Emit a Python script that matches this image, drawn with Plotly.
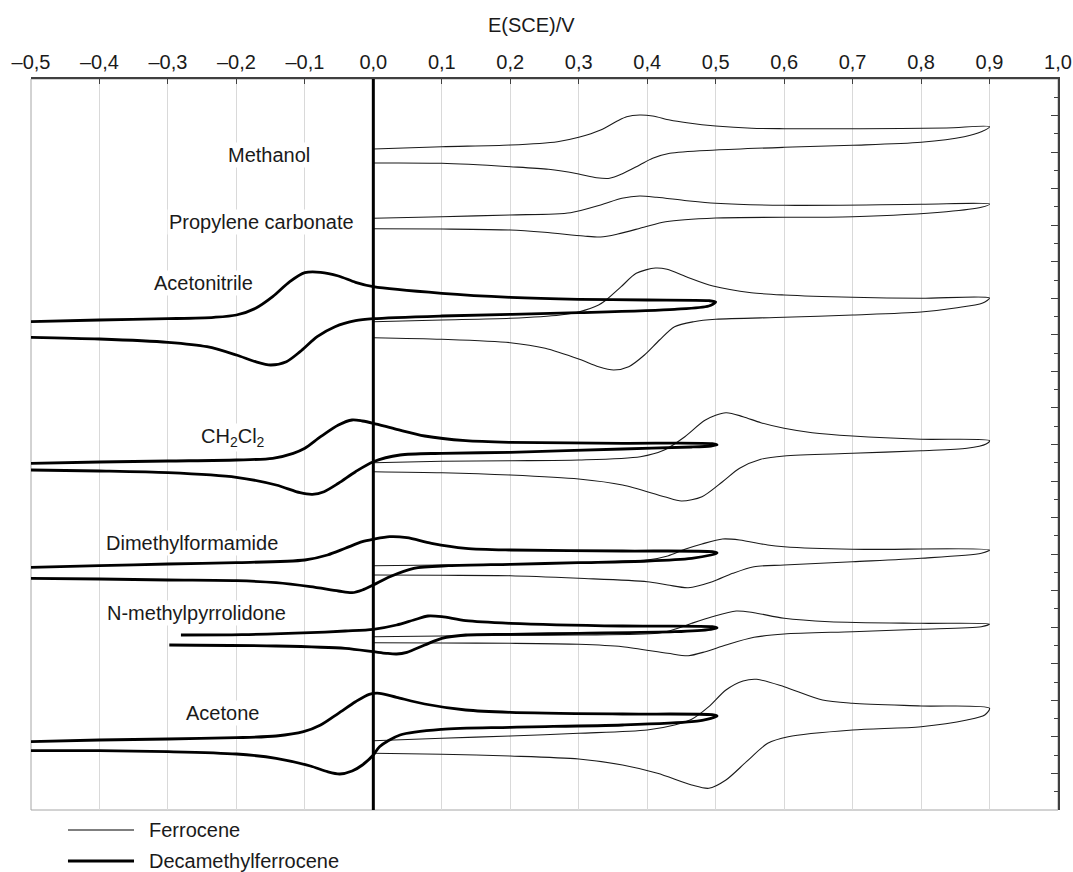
import plotly.graph_objects as go

# ---- axis ticks (E vs SCE, V) ----
x_ticks = [-0.5, -0.4, -0.3, -0.2, -0.1, 0.0, 0.1, 0.2, 0.3, 0.4, 0.5, 0.6, 0.7, 0.8, 0.9, 1.0]
x_tick_labels = ["–0,5", "–0,4", "–0,3", "–0,2", "–0,1", "0,0", "0,1", "0,2", "0,3", "0,4",
                 "0,5", "0,6", "0,7", "0,8", "0,9", "1,0"]

# ---- cyclic voltammograms: E (V), current in arbitrary stacked units ----
# Ferrocene (thin lines)
methanol_fc_E = [0, 0.1, 0.2, 0.269, 0.3, 0.332, 0.357, 0.37, 0.389, 0.408, 0.433, 0.458, 0.5, 0.553, 0.6, 0.711, 0.837, 0.9,
                 0.888, 0.863, 0.8, 0.7, 0.6, 0.5, 0.433, 0.408, 0.389, 0.363, 0.345, 0.326, 0.3, 0.256, 0.2, 0.1, 0]
methanol_fc_I = [66.1, 66.33, 66.5, 66.83, 67.27, 68.0, 68.93, 69.33, 69.5, 69.4, 69.0, 68.73, 68.4, 68.17, 68.13, 68.13, 68.2, 68.33,
                 67.83, 67.33, 66.77, 66.47, 66.27, 66.0, 65.67, 65.17, 64.5, 63.6, 63.17, 63.23, 63.6, 64.07, 64.33, 64.67, 64.7]

pc_fc_E = [0, 0.1, 0.2, 0.288, 0.332, 0.363, 0.389, 0.414, 0.458, 0.5, 0.6, 0.8, 0.9,
           0.888, 0.837, 0.7, 0.5, 0.427, 0.395, 0.357, 0.332, 0.307, 0.25, 0.2, 0.1, 0]
pc_fc_I = [59.17, 59.33, 59.5, 59.73, 60.5, 61.17, 61.4, 61.27, 60.93, 60.67, 60.47, 60.57, 60.6,
           60.27, 59.83, 59.33, 59.2, 58.83, 58.27, 57.6, 57.3, 57.4, 57.77, 58.0, 58.1, 58.13]

acn_fc_E = [0, 0.1, 0.2, 0.273, 0.301, 0.329, 0.34, 0.362, 0.384, 0.412, 0.429, 0.457, 0.496, 0.552, 0.6, 0.7, 0.8, 0.9,
            0.89, 0.85, 0.8, 0.7, 0.6, 0.5, 0.468, 0.44, 0.418, 0.396, 0.373, 0.351, 0.329, 0.301, 0.251, 0.2, 0.1, 0]
acn_fc_I = [48.83, 49.0, 49.17, 49.5, 49.83, 50.5, 51.0, 52.33, 53.67, 54.2, 54.07, 53.33, 52.4, 51.73, 51.5, 51.27, 51.17, 51.2,
            50.7, 50.2, 49.8, 49.5, 49.27, 49.07, 48.83, 48.33, 47.0, 45.5, 44.33, 44.0, 44.33, 45.07, 46.17, 46.73, 47.07, 47.23]

dcm_fc_E = [0, 0.1, 0.2, 0.3, 0.39, 0.425, 0.455, 0.485, 0.515, 0.54, 0.566, 0.6, 0.641, 0.7, 0.8, 0.9,
            0.895, 0.867, 0.8, 0.7, 0.6, 0.566, 0.535, 0.51, 0.48, 0.45, 0.425, 0.364, 0.3, 0.2, 0.1, 0]
dcm_fc_I = [34.73, 34.87, 34.93, 35.0, 35.33, 36.0, 37.33, 39.0, 39.73, 39.33, 38.73, 38.17, 37.73, 37.4, 37.07, 36.93,
            36.6, 36.17, 35.93, 35.67, 35.4, 35.07, 34.17, 32.83, 31.33, 30.9, 31.33, 32.5, 33.1, 33.5, 33.73, 33.83]

dmf_fc_E = [0, 0.1, 0.2, 0.3, 0.4, 0.43, 0.455, 0.48, 0.51, 0.535, 0.576, 0.6, 0.7, 0.9,
            0.888, 0.8, 0.7, 0.6, 0.556, 0.525, 0.495, 0.46, 0.43, 0.4, 0.3, 0.2, 0.1, 0]
dmf_fc_I = [24.43, 24.5, 24.57, 24.75, 25.0, 25.4, 26.07, 26.6, 27.1, 27.0, 26.5, 26.33, 26.07, 26.0,
            25.67, 25.17, 24.83, 24.5, 24.33, 23.67, 22.83, 22.23, 22.5, 22.83, 23.17, 23.43, 23.47, 23.5]

nmp_fc_E = [0, 0.1, 0.2, 0.3, 0.415, 0.44, 0.465, 0.495, 0.53, 0.556, 0.6, 0.666, 0.8, 0.9,
            0.888, 0.8, 0.7, 0.6, 0.556, 0.515, 0.485, 0.46, 0.43, 0.364, 0.3, 0.2, 0.1, 0]
nmp_fc_I = [17.33, 17.4, 17.47, 17.5, 17.67, 18.07, 18.67, 19.33, 19.9, 19.73, 19.17, 18.83, 18.67, 18.6,
            18.33, 18.07, 17.83, 17.6, 17.27, 16.5, 15.83, 15.43, 15.67, 16.33, 16.57, 16.67, 16.7, 16.73]

acetone_fc_E = [0, 0.1, 0.2, 0.3, 0.4, 0.44, 0.465, 0.49, 0.515, 0.54, 0.56, 0.6, 0.656, 0.7, 0.8, 0.9,
                0.893, 0.867, 0.8, 0.7, 0.606, 0.576, 0.545, 0.515, 0.49, 0.465, 0.415, 0.364, 0.3, 0.2, 0.1, 0]
acetone_fc_I = [6.93, 7.17, 7.4, 7.67, 8.0, 8.5, 9.07, 10.33, 12.0, 12.9, 13.07, 12.33, 11.0, 10.67, 10.4, 10.17,
                9.5, 9.0, 8.33, 8.0, 7.33, 6.67, 4.83, 3.0, 2.17, 2.5, 3.67, 4.5, 5.1, 5.4, 5.57, 5.67]

# Decamethylferrocene (thick lines)
acn_dm_E = [-0.5, -0.4, -0.3, -0.233, -0.2, -0.172, -0.147, -0.122, -0.1, -0.077, -0.051, -0.026, 0, 0.1, 0.2, 0.3, 0.4, 0.49, 0.5,
            0.49, 0.44, 0.3, 0.1, 0.0, -0.026, -0.056, -0.082, -0.107, -0.127, -0.15, -0.172, -0.2, -0.243, -0.3, -0.4, -0.5]
acn_dm_I = [48.83, 49.0, 49.13, 49.27, 49.5, 50.17, 51.33, 52.83, 53.73, 53.77, 53.4, 52.77, 52.33, 51.67, 51.27, 51.07, 51.0, 50.93, 50.8,
            50.4, 50.07, 49.73, 49.4, 49.13, 48.93, 48.33, 47.33, 45.83, 44.83, 44.5, 44.83, 45.5, 46.33, 46.77, 47.1, 47.27]

dcm_dm_E = [-0.5, -0.4, -0.3, -0.2, -0.147, -0.117, -0.1, -0.077, -0.051, -0.031, -0.016, 0, 0.034, 0.075, 0.135, 0.2, 0.364, 0.495, 0.502,
            0.493, 0.465, 0.364, 0.2, 0.1, 0.039, 0, -0.026, -0.051, -0.072, -0.089, -0.107, -0.142, -0.2, -0.3, -0.4, -0.5]
dcm_dm_I = [34.67, 34.8, 34.9, 35.0, 35.17, 35.67, 36.17, 37.33, 38.5, 39.0, 38.9, 38.67, 38.07, 37.4, 36.93, 36.77, 36.67, 36.63, 36.5,
            36.4, 36.3, 36.1, 35.77, 35.67, 35.5, 34.83, 33.83, 32.67, 31.83, 31.57, 31.73, 32.5, 33.27, 33.73, 33.9, 34.0]

dmf_dm_E = [-0.5, -0.4, -0.3, -0.2, -0.1, -0.067, -0.041, -0.016, 0, 0.024, 0.049, 0.085, 0.135, 0.2, 0.364, 0.495, 0.502,
            0.493, 0.465, 0.4, 0.3, 0.2, 0.11, 0.059, 0.024, 0, -0.016, -0.031, -0.051, -0.092, -0.142, -0.2, -0.3, -0.4, -0.5]
dmf_dm_I = [24.27, 24.43, 24.6, 24.73, 25.0, 25.5, 26.17, 26.83, 27.07, 27.33, 27.23, 26.67, 26.17, 26.0, 25.9, 25.83, 25.7,
            25.5, 25.17, 24.9, 24.73, 24.57, 24.43, 24.17, 23.33, 22.5, 22.0, 21.73, 21.9, 22.33, 22.73, 22.93, 23.0, 23.1, 23.17]

nmp_dm_E = [-0.281, -0.192, -0.092, -0.041, 0, 0.034, 0.059, 0.08, 0.1, 0.135, 0.2, 0.364, 0.495, 0.502,
            0.493, 0.44, 0.3, 0.2, 0.135, 0.1, 0.075, 0.049, 0.034, 0.019, 0, -0.041, -0.142, -0.298]
nmp_dm_I = [17.5, 17.53, 17.73, 17.9, 18.07, 18.5, 19.0, 19.4, 19.33, 18.93, 18.67, 18.4, 18.33, 18.2,
            18.07, 17.83, 17.67, 17.57, 17.5, 17.17, 16.5, 15.77, 15.6, 15.67, 15.83, 16.17, 16.4, 16.5]

acetone_dm_E = [-0.5, -0.4, -0.3, -0.2, -0.142, -0.102, -0.077, -0.051, -0.026, -0.006, 0.009, 0.034, 0.075, 0.135, 0.2, 0.364, 0.495, 0.502,
                0.493, 0.465, 0.364, 0.2, 0.1, 0.039, 0.009, 0, -0.016, -0.031, -0.049, -0.067, -0.092, -0.142, -0.2, -0.3, -0.4, -0.5]
acetone_dm_I = [6.83, 7.0, 7.1, 7.23, 7.4, 7.83, 8.5, 9.67, 10.83, 11.57, 11.67, 11.27, 10.6, 10.0, 9.77, 9.6, 9.53, 9.4,
                9.17, 8.83, 8.5, 8.27, 8.07, 7.5, 6.33, 5.5, 4.5, 3.9, 3.6, 3.83, 4.4, 5.17, 5.6, 5.83, 5.93, 5.93]

# ---- solvent labels ----
solvent_names = ["Methanol", "Propylene carbonate", "Acetonitrile", "CH<sub>2</sub>Cl<sub>2</sub>",
                 "Dimethylformamide", "N-methylpyrrolidone", "Acetone"]
solvent_label_E = [-0.153, -0.164, -0.248, -0.205, -0.265, -0.259, -0.22]
solvent_label_I = [65.5, 58.8, 52.7, 37.3, 26.7, 19.7, 9.7]

legend_names = ["Ferrocene", "Decamethylferrocene"]

fc_curves = [(methanol_fc_E, methanol_fc_I), (pc_fc_E, pc_fc_I), (acn_fc_E, acn_fc_I), (dcm_fc_E, dcm_fc_I),
             (dmf_fc_E, dmf_fc_I), (nmp_fc_E, nmp_fc_I), (acetone_fc_E, acetone_fc_I)]
dm_curves = [(acn_dm_E, acn_dm_I), (dcm_dm_E, dcm_dm_I), (dmf_dm_E, dmf_dm_I), (nmp_dm_E, nmp_dm_I),
             (acetone_dm_E, acetone_dm_I)]

FONT = "Arial, 'Liberation Sans', sans-serif"
TXT = "#1a1a1a"

fig = go.Figure()
for E, I in fc_curves:
    fig.add_trace(go.Scatter(x=E, y=I, mode="lines",
                             line=dict(color="#1a1a1a", width=1.1, shape="spline", smoothing=0.8),
                             hoverinfo="skip", showlegend=False))
for E, I in dm_curves:
    fig.add_trace(go.Scatter(x=E, y=I, mode="lines",
                             line=dict(color="#000000", width=2.8, shape="spline", smoothing=0.8),
                             hoverinfo="skip", showlegend=False))

annotations = []
for name, xe, yi in zip(solvent_names, solvent_label_E, solvent_label_I):
    annotations.append(dict(x=xe, y=yi, xref="x", yref="y", text=name, showarrow=False,
                            font=dict(family=FONT, size=20, color=TXT), bgcolor="white",
                            xanchor="center", yanchor="middle", borderpad=1))

# axis title
annotations.append(dict(x=0.487, y=1.074, xref="paper", yref="paper", text="E(SCE)/V", showarrow=False,
                        font=dict(family=FONT, size=20, color=TXT), xanchor="center", yanchor="middle"))

# legend (manual)
legend_y = [-0.0274, -0.0698]
legend_w = [1.1, 3]
shapes = []
for name, ly, lw in zip(legend_names, legend_y, legend_w):
    shapes.append(dict(type="line", xref="paper", yref="paper", x0=0.036, x1=0.1003, y0=ly, y1=ly,
                       line=dict(color="#000", width=lw)))
    annotations.append(dict(x=0.113, y=ly, xref="paper", yref="paper", text=name, showarrow=False,
                            font=dict(family=FONT, size=20, color=TXT), xanchor="left", yanchor="middle"))

# frame (left/bottom gray)
shapes.append(dict(type="rect", xref="paper", yref="paper", x0=0, x1=1, y0=0, y1=1,
                   line=dict(color="#a6a6a6", width=1), layer="below"))
# thick vertical line at E = 0
shapes.append(dict(type="line", xref="x", yref="paper", x0=0, x1=0, y0=0, y1=1,
                   line=dict(color="#000", width=3)))

fig.update_layout(
    width=1073, height=872,
    margin=dict(l=31, r=15, t=79, b=62, autoexpand=False),
    paper_bgcolor="white", plot_bgcolor="white",
    showlegend=False,
    font=dict(family=FONT, size=20, color=TXT),
    annotations=annotations, shapes=shapes,
    xaxis=dict(side="top", range=[-0.5, 1.0], tickvals=x_ticks, ticktext=x_tick_labels,
               ticks="inside", ticklen=5, tickcolor="#404040", tickwidth=1,
               showline=True, linecolor="#404040", linewidth=1.5, automargin=False,
               showgrid=True, gridcolor="#d9d9d9", gridwidth=1, zeroline=False,
               tickfont=dict(family=FONT, size=20, color=TXT)),
    yaxis=dict(side="right", range=[0, 73.1], showticklabels=False, automargin=False,
               tick0=0, dtick=3.655, ticks="inside", ticklen=7, tickcolor="#404040", tickwidth=1.2,
               minor=dict(dtick=1.8275, tick0=0, ticks="inside", ticklen=4, tickcolor="#404040"),
               showline=True, linecolor="#404040", linewidth=1.5,
               showgrid=False, zeroline=False),
)

fig.write_html("out.html", config={"displayModeBar": False},
               post_script="document.body.style.margin='0';document.body.style.overflow='hidden';")
